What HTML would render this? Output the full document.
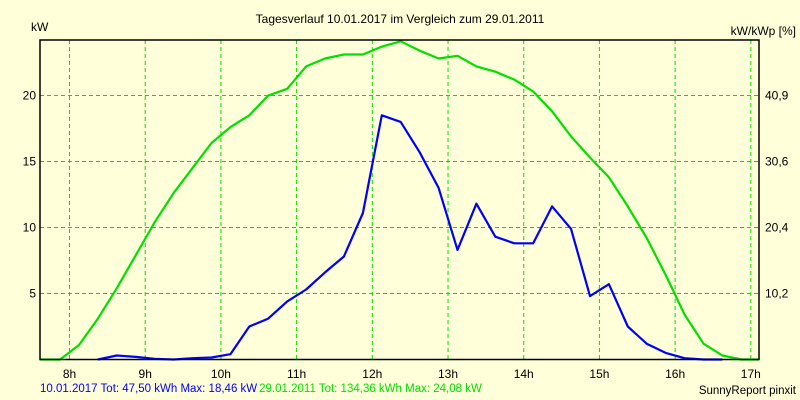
<!DOCTYPE html>
<html><head><meta charset="utf-8"><style>
body{margin:0;background:#ffffd9;}
svg{display:block;font-family:"Liberation Sans",sans-serif;}
</style></head><body>
<svg id="chart" width="800" height="400">
<rect x="0" y="0" width="800" height="400" fill="#ffffd9"/>
<text x="400" y="23" font-size="12" text-anchor="middle">Tagesverlauf 10.01.2017 im Vergleich zum 29.01.2011</text>
<text x="31" y="31" font-size="12">kW</text>
<text x="796" y="35" font-size="12" text-anchor="end">kW/kWp [%]</text>
<g id="grid"></g>
<g id="series"></g>
<rect x="40" y="40" width="719" height="319.5" fill="none" stroke="#000" stroke-width="1.5"/>
<g id="ticks"></g>
<text x="40" y="392" font-size="11.5"><tspan fill="#0000ff">10.01.2017 Tot: 47,50 kWh Max: 18,46 kW</tspan><tspan fill="#00e000" dx="2">29.01.2011 Tot: 134,36 kWh Max: 24,08 kW</tspan></text>
<text x="796" y="394" font-size="11.5" text-anchor="end">SunnyReport pinxit</text>
</svg>
<script>
const hourTicks=[8,9,10,11,12,13,14,15,16,17];
const yTicks=[5,10,15,20];
const yRightLabels=["10,2","20,4","30,6","40,9"];
const greenStart=7.875;
const greenValues=[0,1.1,3.1,5.4,7.9,10.4,12.6,14.5,16.4,17.6,18.5,20.0,20.5,22.2,22.8,23.1,23.1,23.7,24.1,23.4,22.8,23.0,22.2,21.8,21.2,20.3,18.8,16.9,15.3,13.8,11.6,9.2,6.4,3.4,1.2,0.3,0];
const blueStart=8.375;
const blueValues=[0,0.3,0.2,0.05,0,0.1,0.15,0.4,2.5,3.1,4.4,5.3,6.6,7.8,11.1,18.5,18.0,15.7,13.0,8.3,11.8,9.3,8.8,8.8,11.6,9.9,4.8,5.7,2.5,1.2,0.5,0.1,0,0];
const step=0.25;
const NS="http://www.w3.org/2000/svg";
const X0=40,X1=759,Y0=359.5,YT=40;
const tMin=7.61,tMax=17.108,vMax=24.2;
function xs(t){return X0+(t-tMin)/(tMax-tMin)*(X1-X0);}
function ys(v){return Y0-v/vMax*(Y0-YT);}
const grid=document.getElementById('grid'),ticks=document.getElementById('ticks'),series=document.getElementById('series');
function mk(tag,attrs,parent){const e=document.createElementNS(NS,tag);for(const k in attrs)e.setAttribute(k,attrs[k]);parent.appendChild(e);return e;}
hourTicks.forEach(h=>{
  const x=xs(h);
  const l=mk('line',{x1:x,x2:x,y1:YT,y2:Y0,stroke:'#00e000','stroke-dasharray':'4,3'},grid);
  
  
  const t=mk('text',{x:x,y:378,'font-size':12,'text-anchor':'middle'},ticks);
  t.textContent=h+'h';
  
  
});
yTicks.forEach((v,i)=>{
  const y=ys(v);
  const l=mk('line',{x1:X0,x2:X1,y1:y,y2:y,stroke:'#00e000','stroke-dasharray':'4,3'},grid);
  
  
  const t=mk('text',{x:36,y:y+4,'font-size':12,'text-anchor':'end'},ticks);
  t.textContent=v;
  
  
  const r=mk('text',{x:765,y:y+4,'font-size':12},ticks);
  r.textContent=yRightLabels[i];
  
  
});
function line(start,vals,color,name){
  let pts=vals.map((v,i)=>xs(start+i*step).toFixed(1)+','+ys(v).toFixed(1));
  if(name==='series-2011'){pts.unshift(X0+','+ys(0));pts.push(X1+','+ys(0));}
  const p=mk('polyline',{points:pts.join(' '),fill:'none',stroke:color,'stroke-width':2.2,'stroke-linejoin':'round'},series);
  
  
}
line(greenStart,greenValues,'#00e000','series-2011');
line(blueStart,blueValues,'#0000ff','series-2017');
</script>
</body></html>
